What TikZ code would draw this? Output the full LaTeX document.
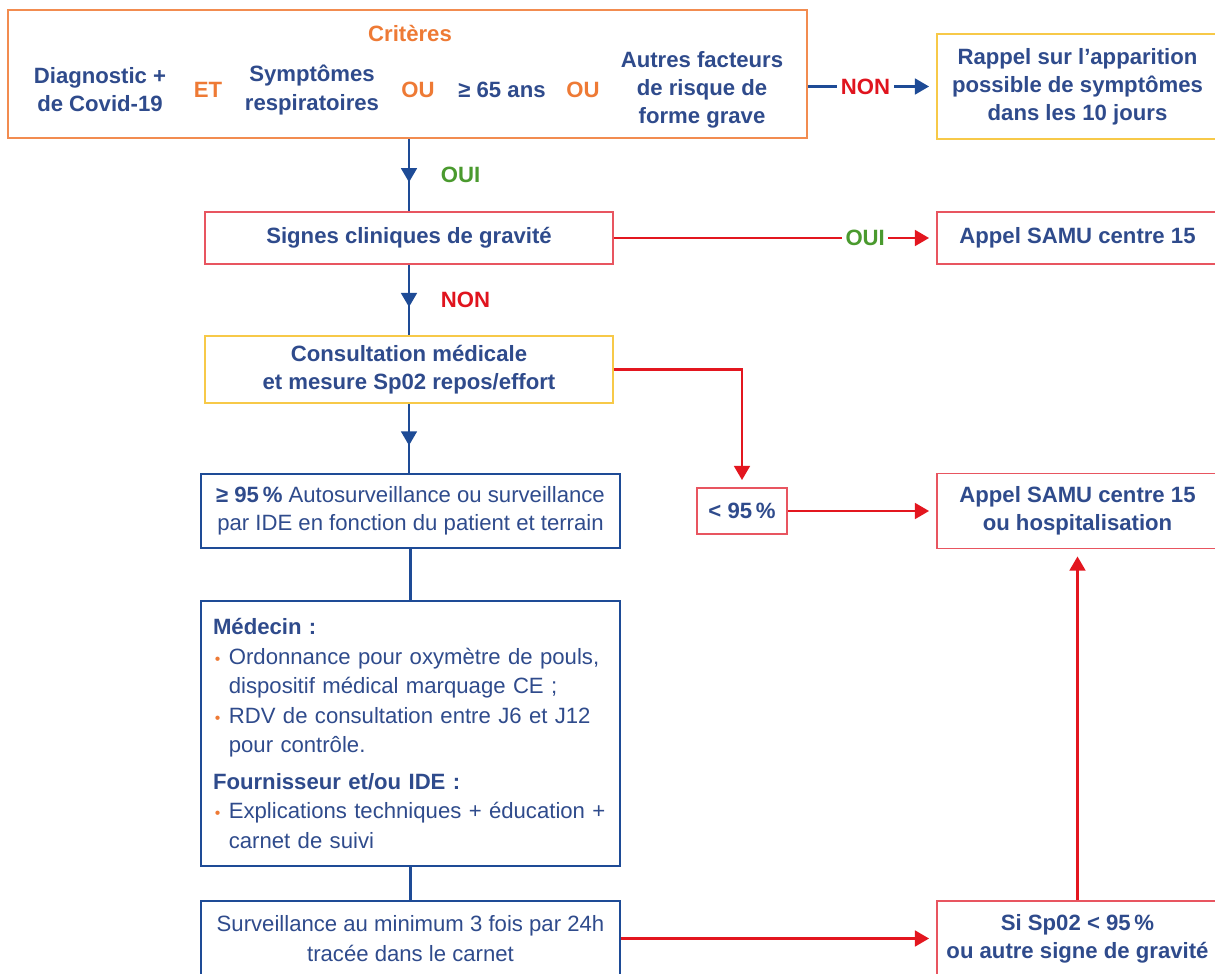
\documentclass[tikz,border=0pt]{standalone}
\usepackage{fontspec}
\setmainfont{Liberation Sans}
\usepackage{xcolor}
\usetikzlibrary{arrows.meta}
\usetikzlibrary{decorations.markings}

\definecolor{txtblue}{HTML}{2F4B8C}
\definecolor{lineblue}{HTML}{1E4B96}
\definecolor{critorange}{HTML}{F28C50}
\definecolor{textorange}{HTML}{EE7A35}
\definecolor{boxyellow}{HTML}{F7C948}
\definecolor{boxred}{HTML}{E85560}
\definecolor{linered}{HTML}{E3161F}
\definecolor{nonred}{HTML}{E0141E}
\definecolor{okgreen}{HTML}{4A9A2E}

\newcommand{\taille}{\fontsize{12.6}{16}\selectfont}
\newcommand{\puce}{\makebox[9pt][l]{\hspace{1pt}\textcolor{textorange}{\small\textbullet}}}
\newcommand{\retrait}{\hspace*{9pt}}

\begin{document}
\begin{tikzpicture}[x=0.02cm,y=-0.02cm,
  font=\taille, text=txtblue,
  box/.style={draw, line width=1.1pt, fill=white, align=center, inner sep=0pt},
  orangebox/.style={box, draw=critorange},
  yellowbox/.style={box, draw=boxyellow},
  redbox/.style={box, draw=boxred},
  bluebox/.style={box, draw=lineblue},
  gras/.style={font=\taille\bfseries},
  crititem/.style={align=center, gras},
  liaison/.style={gras, text=textorange},
  blueline/.style={draw=lineblue, line width=1.2pt},
  redline/.style={draw=linered, line width=1.2pt},
  fleche/.style={-{Triangle[length=8pt,width=9pt]}, shorten >=4pt},
  midarrow/.style={postaction={decorate}, decoration={markings,
    mark=at position 0.6 with {\arrow{Triangle[length=8pt,width=9pt]}}}},
  oui/.style={gras, text=okgreen},
  non/.style={gras, text=nonred}]

\fill[white] (0,0) rectangle (1215,974);
\useasboundingbox (0,0) rectangle (1215,974);

\node[orangebox, minimum width=15.98cm, minimum height=2.56cm] (crit) at (407.5,74) {};
\node[liaison] (titre) at (410,33) {Critères};
\node[crititem] (diag) at (100,90) {Diagnostic +\\de Covid-19};
\node[liaison] (et) at (208,90) {ET};
\node[crititem] (sympt) at (312,90) {Symptômes\\respiratoires};
\node[liaison] (ou1) at (418,90) {OU};
\node[crititem] (age) at (502,90) {≥ 65 ans};
\node[liaison] (ou2) at (583,90) {OU};
\node[crititem] (facteurs) at (702,90) {Autres facteurs\\de risque de\\forme grave};

\node[yellowbox, minimum width=5.62cm, minimum height=2.1cm, gras] (rappel) at (1077.5,86.5) {Rappel sur l’apparition\\possible de symptômes\\dans les 10 jours};
\draw[blueline, fleche] (crit.east |- rappel.west) -- (rappel.west)
  node[pos=0.45, fill=white, inner xsep=2pt, non] {NON};

\node[redbox, minimum width=8.16cm, minimum height=1.04cm, gras] (signes) at (409,238) {Signes cliniques de gravité};
\draw[blueline, midarrow] (signes.north |- crit.south) -- (signes.north)
  node[pos=0.5, right=0.5cm, oui] {OUI};

\node[redbox, minimum width=5.62cm, minimum height=1.04cm, gras] (samu) at (1077.5,238) {Appel SAMU centre 15};
\draw[redline, fleche] (signes.east) -- (samu.west)
  node[pos=0.78, fill=white, inner xsep=2pt, oui] {OUI};

\node[yellowbox, minimum width=8.16cm, minimum height=1.34cm, gras] (consult) at (409,369.5) {Consultation médicale\\et mesure Sp02 repos/effort};
\draw[blueline, midarrow] (signes.south) -- (consult.north)
  node[pos=0.5, right=0.5cm, non] {NON};

\node[bluebox, minimum width=8.38cm, minimum height=1.48cm] (ge95) at (410.5,511) {\textbf{≥ 95\,\%} Autosurveillance ou surveillance\\par IDE en fonction du patient et terrain};
\draw[blueline, midarrow] (consult.south) -- (consult.south |- ge95.north);

\node[redbox, minimum width=1.8cm, minimum height=0.92cm, gras] (lt95) at (742,511) {< 95\,\%};
\draw[redline, fleche] (consult.east) -| (lt95.north);

\node[redbox, minimum width=5.62cm, minimum height=1.5cm, gras] (hospi) at (1077.5,511) {Appel SAMU centre 15\\ou hospitalisation};
\draw[redline, fleche] (lt95.east) -- (hospi.west);

\node[bluebox, minimum width=8.38cm, minimum height=5.3cm, text width=7.9cm, align=left,
  font=\fontsize{12.6}{16.8}\selectfont] (medecin) at (410.5,733.5) {\textbf{Médecin :}\\
\puce Ordonnance pour oxymètre de pouls,\\
\retrait dispositif médical marquage CE ;\\
\puce RDV de consultation entre J6 et J12\\
\retrait pour contrôle.\\[4pt]
\textbf{Fournisseur et/ou IDE :}\\
\puce Explications techniques + éducation +\\
\retrait carnet de suivi};
\draw[blueline] (ge95.south) -- (medecin.north);

\node[bluebox, minimum width=8.38cm, minimum height=1.5cm] (surv) at (410.5,938.5) {Surveillance au minimum 3 fois par 24h\\[1.5pt]tracée dans le carnet};
\draw[blueline] (medecin.south) -- (surv.north);

\node[redbox, minimum width=5.62cm, minimum height=1.5cm, gras] (sisp) at (1077.5,938.5) {Si Sp02 < 95\,\%\\ou autre signe de gravité};
\draw[redline, fleche] (surv.east) -- (sisp.west);
\draw[redline, fleche] (sisp.north) -- (hospi.south);
\end{tikzpicture}
\end{document}
